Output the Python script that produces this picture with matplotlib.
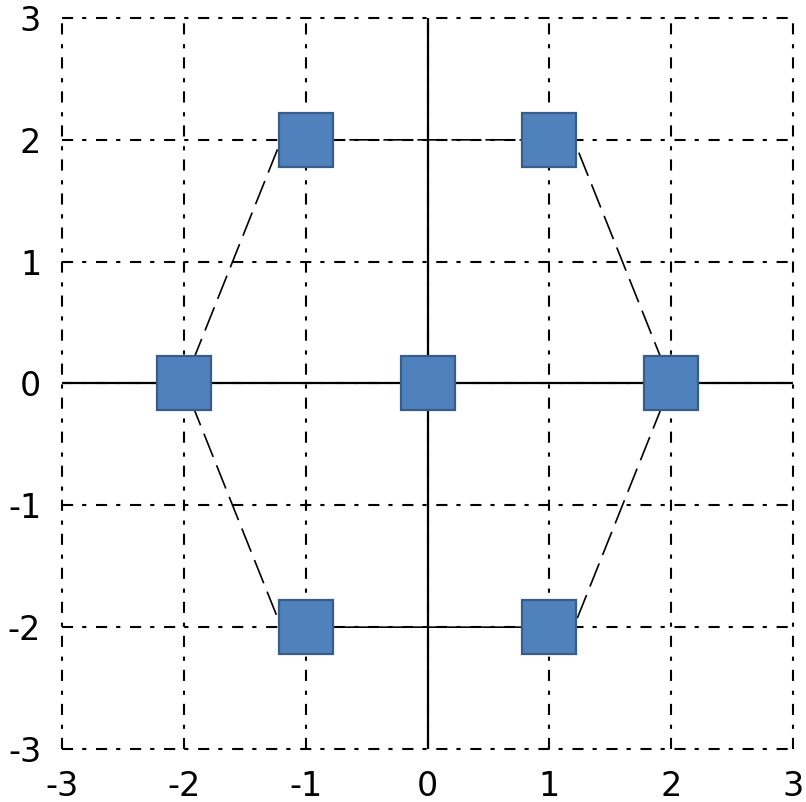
import numpy as np
import matplotlib
matplotlib.use("Agg")
from matplotlib import pyplot as plt

plt.rcParams['lines.scale_dashes'] = False
plt.rcParams['font.family'] = ['DejaVu Sans']

# points of the hexagonal pattern plus the centre point
pts_x = [-1, 1, 2, 1, -1, -2]
pts_y = [2, 2, 0, -2, -2, 0]
center_x = [0]
center_y = [0]

# closed dashed outline around the pattern
outline_x = [-1.2, 1.2, 2, 1.2, -1.2, -2]
outline_y = [2, 2, 0, -2, -2, 0]

ticks = [-3, -2, -1, 0, 1, 2, 3]
tick_labels = ['-3', '-2', '-1', '0', '1', '2', '3']

fig = plt.figure(figsize=(8.06, 8.02), dpi=100)
ax = fig.add_axes([62 / 806, 1 - 749 / 802, 731 / 806, 731 / 802])
ax.set_xlim(-3, 3)
ax.set_ylim(-3, 3)

for s in ax.spines.values():
    s.set_visible(False)

ax.set_xticks(ticks)
ax.set_yticks(ticks)
ax.set_xticklabels(tick_labels, fontsize=24)
ax.set_yticklabels(tick_labels, fontsize=24)
ax.tick_params(axis='x', length=0, pad=15)
ax.tick_params(axis='y', length=0, pad=15)

ax.grid(True, color='black', linewidth=1.5,
        linestyle=(0, (8, 6.5, 3, 7)))
for gl in ax.get_xgridlines() + ax.get_ygridlines():
    gl.set_clip_on(False)
ax.set_axisbelow(True)

ax.axhline(0, color='black', linewidth=1.6, zorder=2)
ax.axvline(0, color='black', linewidth=1.6, zorder=2)

ax.plot(outline_x + outline_x[:1], outline_y + outline_y[:1], color='black',
        linewidth=1.2, linestyle=(0, (18, 6.5)), zorder=3, clip_on=False)

marker_style = dict(linestyle='none', marker='s', markersize=39.5,
                    markerfacecolor='#4F81BD', markeredgecolor='#385D8A',
                    markeredgewidth=1.6, zorder=4, clip_on=False)
ax.plot(pts_x, pts_y, **marker_style)
ax.plot(center_x, center_y, **marker_style)

fig.savefig('out.png', dpi=100)
